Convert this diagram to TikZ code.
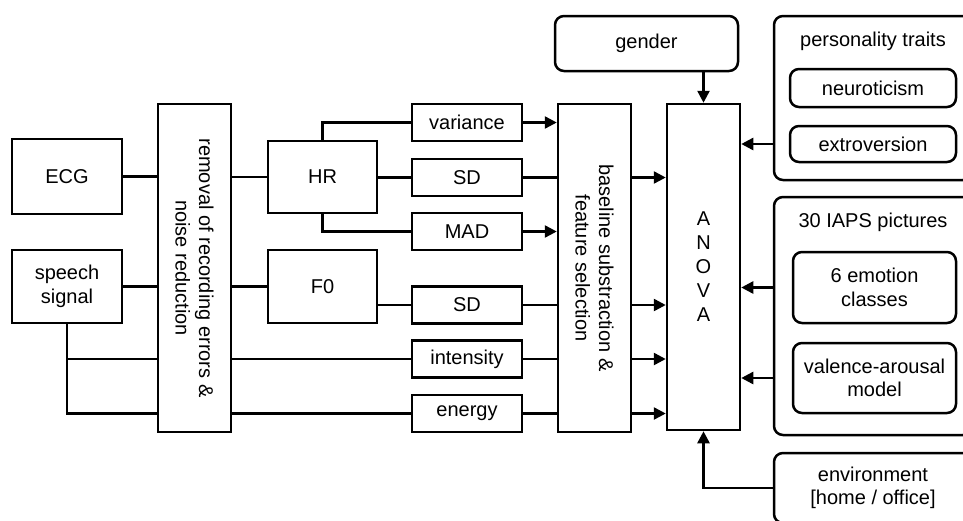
\documentclass[tikz,border=0pt]{standalone}
\usepackage{fontspec}
\setmainfont{Liberation Sans}
\usetikzlibrary{arrows.meta,calc}
\begin{document}
\begin{tikzpicture}[x=1pt,y=-1pt,
  box/.style={draw,line width=2.5pt,inner sep=0pt,font=\fontsize{20}{23.5}\selectfont,align=center},
  rbox/.style={box,rounded corners=9pt},
  ln/.style={line width=2.5pt},
  arr/.style={ln,-{Triangle[length=12pt,width=12pt]}}]
\useasboundingbox (0,0) rectangle (963,520);
\clip (0,0) rectangle (963,520);
% left column
\node[box,minimum width=110pt,minimum height=75pt] (ecg) at (67,176.5) {ECG};
\node[box,minimum width=110pt,minimum height=73pt] (speech) at (67,286.5) {speech\\signal};
\node[box,rotate=-90,minimum width=328pt,minimum height=73pt] (removal) at (194.5,268) {removal of recording errors \&\\noise reduction};
% HR / F0
\node[box,minimum width=109pt,minimum height=72pt] (hr) at (322.5,177) {HR};
\node[box,minimum width=109pt,minimum height=73pt] (f0) at (322.5,286.5) {F0};
% features
\node[box,minimum width=110pt,minimum height=37pt] (var) at (467,122.5) {variance};
\node[box,minimum width=110pt,minimum height=37pt] (sd1) at (467,177.5) {SD};
\node[box,minimum width=110pt,minimum height=37pt] (mad) at (467,231.5) {MAD};
\node[box,minimum width=110pt,minimum height=37pt] (sd2) at (467,305) {SD};
\node[box,minimum width=110pt,minimum height=37pt] (int) at (467,359) {intensity};
\node[box,minimum width=110pt,minimum height=37pt] (energy) at (467,413.5) {energy};
% baseline
\node[box,rotate=-90,minimum width=328pt,minimum height=73pt] (base) at (594.5,268) {baseline substraction \&\\feature selection};
% anova
\node[box,minimum width=73pt,minimum height=326pt,font=\fontsize{20}{24}\selectfont] (anova) at (703.5,267) {A\\N\\O\\V\\A};
% gender
\node[rbox,minimum width=183pt,minimum height=55pt] (gender) at (646.5,43.5) {gender};
% personality
\node[rbox,minimum width=198pt,minimum height=164pt] (pers) at (873,98) {};
\node[font=\fontsize{20}{23.5}\selectfont] (perst) at (873,41) {personality traits};
\node[rbox,minimum width=166pt,minimum height=38pt] (neuro) at (873,88) {neuroticism};
\node[rbox,minimum width=166pt,minimum height=36pt] (extro) at (873,144) {extroversion};
% IAPS
\node[rbox,minimum width=198pt,minimum height=238pt] (iaps) at (873,316) {};
\node[font=\fontsize{20}{23.5}\selectfont] (iapst) at (873,222) {30 IAPS pictures};
\node[rbox,minimum width=163pt,minimum height=71pt] (emo) at (874.5,287.5) {6 emotion\\classes};
\node[rbox,minimum width=163pt,minimum height=70pt] (val) at (874.5,378) {valence-arousal\\model};
% environment
\node[rbox,minimum width=198pt,minimum height=70pt] (env) at (873,488) {environment\\{[home / office]}};
% connectors left
\draw[ln] (ecg.east) -- (ecg.east -| removal.south);
\draw[ln] (speech.east) -- (speech.east -| removal.south);
\draw[ln] (speech.south) |- (removal.south |- int.west);
\draw[ln] (speech.south) |- (removal.south |- energy.west);
\draw[ln] (removal.north |- hr.west) -- (hr.west);
\draw[ln] (removal.north |- f0.west) -- (f0.west);
\draw[ln] (removal.north |- int.west) -- (int.west);
\draw[ln] (removal.north |- energy.west) -- (energy.west);
% HR / F0 to features
\draw[ln] (hr.north) |- (var.west);
\draw[ln] (hr.east |- sd1.west) -- (sd1.west);
\draw[ln] (hr.south) |- (mad.west);
\draw[ln] (f0.east |- sd2.west) -- (sd2.west);
% features to baseline
\draw[arr] (var.east) -- (var.east -| base.south);
\draw[ln] (sd1.east) -- (sd1.east -| base.south);
\draw[arr] (mad.east) -- (mad.east -| base.south);
\draw[ln] (sd2.east) -- (sd2.east -| base.south);
\draw[ln] (int.east) -- (int.east -| base.south);
\draw[ln] (energy.east) -- (energy.east -| base.south);
% baseline to anova
\draw[arr] (base.north |- sd1.east) -- (anova.west |- sd1.east);
\draw[arr] (base.north |- sd2.east) -- (anova.west |- sd2.east);
\draw[arr] (base.north |- int.east) -- (anova.west |- int.east);
\draw[arr] (base.north |- energy.east) -- (anova.west |- energy.east);
% inputs to anova
\draw[arr] (anova.north |- gender.south) -- (anova.north);
\draw[arr] (pers.west |- extro.west) -- (anova.east |- extro.west);
\draw[arr] (iaps.west |- emo.west) -- (anova.east |- emo.west);
\draw[arr] (iaps.west |- val.west) -- (anova.east |- val.west);
\draw[arr] (env.west) -| (anova.south);
\end{tikzpicture}
\end{document}
